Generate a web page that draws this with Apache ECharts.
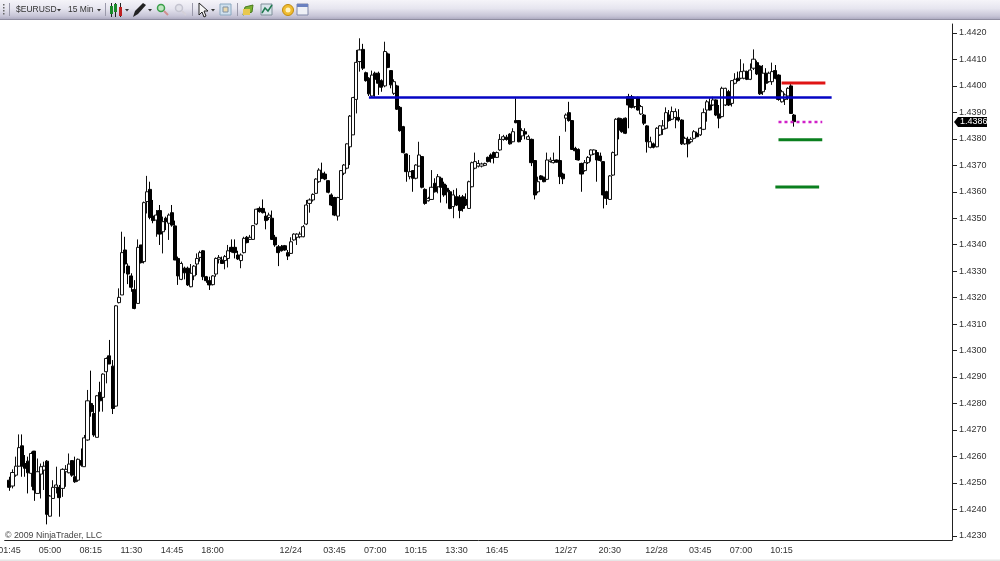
<!DOCTYPE html>
<html>
<head>
<meta charset="utf-8">
<title>$EURUSD 15 Min</title>
<style>
	html,body{margin:0;padding:0;background:#fff;}
	#main{width:1000px;height:561px;}
</style>
<script src="https://cdn.jsdelivr.net/npm/echarts@6/dist/echarts.min.js"></script>
</head>
<body>
<div id="main"></div>
<script>
// 15 minute bars
var opens = [
1.42510,1.42488,1.42529,1.42563,1.42640,1.42573,1.42582,1.42536,1.42620,1.42460,
1.42533,1.42548,1.42582,1.42374,1.42441,1.42483,1.42483,1.42479,1.42542,1.42538,
1.42584,1.42523,1.42510,1.42584,1.42561,1.42662,1.42800,1.42762,1.42672,1.42842,
1.42823,1.42920,1.42980,1.42941,1.42790,1.43181,1.43210,1.43380,1.43319,1.43282,
1.43231,1.43178,1.43399,1.43336,1.43563,1.43609,1.43508,1.43493,1.43529,1.43449,
1.43500,1.43481,1.43521,1.43471,1.43348,1.43269,1.43311,1.43311,1.43241,1.43282,
1.43327,1.43352,1.43377,1.43279,1.43264,1.43249,1.43289,1.43345,1.43342,1.43340,
1.43348,1.43390,1.43390,1.43361,1.43340,1.43370,1.43428,1.43420,1.43420,1.43478,
1.43537,1.43537,1.43508,1.43503,1.43500,1.43428,1.43392,1.43392,1.43396,1.43370,
1.43367,1.43418,1.43428,1.43430,1.43430,1.43478,1.43556,1.43569,1.43594,1.43638,
1.43670,1.43667,1.43642,1.43588,1.43578,1.43508,1.43571,1.43670,1.43689,1.43770,
1.43815,1.43949,1.44092,1.44138,1.44050,1.44029,1.43962,1.44048,1.44048,1.44020,
1.44000,1.44121,1.44058,1.43972,1.44000,1.43919,1.43846,1.43743,1.43657,1.43680,
1.43651,1.43697,1.43733,1.43609,1.43566,1.43571,1.43632,1.43619,1.43651,1.43629,
1.43613,1.43600,1.43544,1.43581,1.43579,1.43581,1.43571,1.43537,1.43619,1.43689,
1.43697,1.43697,1.43700,1.43730,1.43739,1.43748,1.43730,1.43758,1.43798,1.43806,
1.43818,1.43789,1.43869,1.43869,1.43811,1.43827,1.43798,1.43798,1.43718,1.43600,
1.43660,1.43655,1.43647,1.43714,1.43710,1.43720,1.43718,1.43667,1.43878,1.43899,
1.43869,1.43764,1.43760,1.43707,1.43680,1.43710,1.43739,1.43743,1.43748,1.43735,
1.43714,1.43600,1.43571,1.43663,1.43739,1.43878,1.43874,1.43878,1.43959,1.43959,
1.43922,1.43957,1.43894,1.43890,1.43849,1.43768,1.43781,1.43770,1.43815,1.43836,
1.43840,1.43890,1.43874,1.43881,1.43881,1.43871,1.43781,1.43798,1.43789,1.43802,
1.43821,1.43815,1.43836,1.43909,1.43928,1.43928,1.43947,1.43894,1.43884,1.43928,
1.43978,1.43934,1.44010,1.44029,1.44029,1.44029,1.44054,1.44025,1.44067,1.44088,
1.44075,1.43978,1.44048,1.44016,1.44016,1.44058,1.44041,1.43940,1.43949,1.43962,
1.44000,1.43890];
var closes = [
1.42483,1.42539,1.42563,1.42633,1.42563,1.42555,1.42538,1.42611,1.42473,1.42542,
1.42561,1.42563,1.42381,1.42450,1.42483,1.42492,1.42444,1.42551,1.42551,1.42571,
1.42529,1.42504,1.42589,1.42567,1.42670,1.42810,1.42769,1.42681,1.42829,1.42810,
1.42911,1.42970,1.42949,1.42781,1.43169,1.43201,1.43370,1.43327,1.43289,1.43239,
1.43159,1.43390,1.43332,1.43559,1.43600,1.43503,1.43491,1.43512,1.43440,1.43487,
1.43487,1.43512,1.43474,1.43342,1.43282,1.43329,1.43294,1.43248,1.43292,1.43319,
1.43348,1.43370,1.43279,1.43264,1.43248,1.43282,1.43348,1.43352,1.43329,1.43355,
1.43377,1.43374,1.43370,1.43346,1.43361,1.43424,1.43408,1.43428,1.43472,1.43534,
1.43525,1.43521,1.43491,1.43512,1.43420,1.43399,1.43370,1.43377,1.43380,1.43357,
1.43411,1.43440,1.43440,1.43440,1.43468,1.43550,1.43569,1.43590,1.43648,1.43682,
1.43651,1.43648,1.43598,1.43550,1.43512,1.43578,1.43680,1.43701,1.43781,1.43886,
1.43956,1.44089,1.44136,1.44067,1.44020,1.43970,1.44041,1.44025,1.44010,1.43995,
1.44130,1.44070,1.44004,1.44016,1.43912,1.43831,1.43748,1.43676,1.43676,1.43651,
1.43701,1.43739,1.43617,1.43556,1.43575,1.43617,1.43600,1.43657,1.43617,1.43588,
1.43600,1.43537,1.43588,1.43550,1.43529,1.43537,1.43550,1.43638,1.43710,1.43714,
1.43707,1.43705,1.43707,1.43714,1.43726,1.43730,1.43748,1.43798,1.43808,1.43798,
1.43781,1.43827,1.43861,1.43789,1.43831,1.43818,1.43808,1.43710,1.43588,1.43638,
1.43647,1.43638,1.43720,1.43720,1.43718,1.43712,1.43657,1.43649,1.43890,1.43869,
1.43760,1.43755,1.43720,1.43667,1.43710,1.43730,1.43758,1.43758,1.43720,1.43718,
1.43588,1.43575,1.43660,1.43748,1.43874,1.43833,1.43827,1.43821,1.43928,1.43919,
1.43953,1.43909,1.43922,1.43859,1.43789,1.43789,1.43768,1.43840,1.43849,1.43849,
1.43899,1.43869,1.43903,1.43903,1.43871,1.43781,1.43802,1.43781,1.43798,1.43827,
1.43808,1.43840,1.43899,1.43940,1.43909,1.43947,1.43890,1.43878,1.43991,1.43991,
1.43928,1.44020,1.44025,1.44020,1.44054,1.44056,1.44025,1.44060,1.44101,1.44045,
1.43970,1.44048,1.44010,1.44048,1.44054,1.44029,1.43949,1.43978,1.43966,1.43991,
1.43896,1.43865];
var lows = [
1.42470,1.42479,1.42523,1.42561,1.42523,1.42523,1.42460,1.42485,1.42432,1.42460,
1.42441,1.42473,1.42343,1.42372,1.42441,1.42460,1.42372,1.42447,1.42485,1.42536,
1.42523,1.42500,1.42504,1.42561,1.42561,1.42659,1.42750,1.42674,1.42672,1.42769,
1.42769,1.42876,1.42949,1.42760,1.42788,1.43178,1.43210,1.43292,1.43251,1.43222,
1.43156,1.43178,1.43329,1.43329,1.43518,1.43496,1.43481,1.43430,1.43399,1.43367,
1.43455,1.43418,1.43468,1.43342,1.43248,1.43266,1.43269,1.43244,1.43239,1.43266,
1.43285,1.43336,1.43266,1.43256,1.43229,1.43246,1.43279,1.43329,1.43327,1.43307,
1.43314,1.43370,1.43348,1.43342,1.43311,1.43367,1.43405,1.43418,1.43418,1.43474,
1.43521,1.43518,1.43458,1.43493,1.43418,1.43392,1.43319,1.43374,1.43377,1.43342,
1.43365,1.43415,1.43399,1.43424,1.43428,1.43474,1.43521,1.43563,1.43592,1.43634,
1.43648,1.43644,1.43594,1.43546,1.43508,1.43491,1.43569,1.43663,1.43685,1.43701,
1.43815,1.43896,1.44054,1.44060,1.44016,1.43962,1.43959,1.43959,1.43966,1.43978,
1.43995,1.44067,1.43991,1.43966,1.43909,1.43827,1.43745,1.43638,1.43647,1.43600,
1.43647,1.43695,1.43613,1.43551,1.43563,1.43569,1.43597,1.43594,1.43559,1.43581,
1.43556,1.43534,1.43500,1.43546,1.43500,1.43525,1.43546,1.43536,1.43617,1.43685,
1.43692,1.43692,1.43697,1.43711,1.43710,1.43707,1.43728,1.43755,1.43793,1.43793,
1.43778,1.43787,1.43859,1.43787,1.43796,1.43798,1.43796,1.43697,1.43571,1.43594,
1.43644,1.43636,1.43644,1.43710,1.43707,1.43710,1.43629,1.43629,1.43827,1.43865,
1.43758,1.43720,1.43718,1.43600,1.43676,1.43705,1.43714,1.43739,1.43638,1.43714,
1.43537,1.43550,1.43569,1.43660,1.43735,1.43798,1.43823,1.43818,1.43840,1.43915,
1.43915,1.43907,1.43890,1.43852,1.43748,1.43764,1.43764,1.43768,1.43811,1.43815,
1.43836,1.43865,1.43871,1.43840,1.43865,1.43777,1.43777,1.43730,1.43783,1.43798,
1.43806,1.43811,1.43833,1.43865,1.43907,1.43924,1.43886,1.43840,1.43881,1.43924,
1.43924,1.43922,1.44006,1.44016,1.44025,1.44025,1.44022,1.44022,1.44060,1.44041,
1.43966,1.43966,1.43985,1.44012,1.44004,1.44025,1.43944,1.43937,1.43928,1.43947,
1.43894,1.43846];
var highs = [
1.42523,1.42551,1.42599,1.42683,1.42683,1.42605,1.42599,1.42618,1.42620,1.42592,
1.42573,1.42580,1.42586,1.42454,1.42510,1.42561,1.42492,1.42555,1.42567,1.42611,
1.42586,1.42599,1.42592,1.42630,1.42681,1.42851,1.42924,1.42794,1.42832,1.42882,
1.42914,1.42974,1.43040,1.42964,1.43172,1.43235,1.43449,1.43430,1.43329,1.43292,
1.43266,1.43420,1.43399,1.43563,1.43660,1.43638,1.43569,1.43531,1.43550,1.43506,
1.43506,1.43518,1.43550,1.43491,1.43355,1.43336,1.43317,1.43317,1.43327,1.43323,
1.43367,1.43377,1.43380,1.43282,1.43279,1.43285,1.43352,1.43361,1.43355,1.43361,
1.43399,1.43420,1.43420,1.43377,1.43367,1.43430,1.43433,1.43437,1.43474,1.43536,
1.43544,1.43571,1.43525,1.43521,1.43529,1.43437,1.43399,1.43399,1.43399,1.43380,
1.43428,1.43443,1.43443,1.43449,1.43474,1.43569,1.43575,1.43594,1.43651,1.43689,
1.43710,1.43676,1.43644,1.43594,1.43581,1.43581,1.43682,1.43705,1.43783,1.43890,
1.43959,1.44136,1.44180,1.44159,1.44054,1.44033,1.44058,1.44054,1.44054,1.44025,
1.44167,1.44126,1.44060,1.44025,1.44004,1.43924,1.43849,1.43745,1.43739,1.43682,
1.43704,1.43789,1.43735,1.43613,1.43581,1.43682,1.43651,1.43667,1.43657,1.43638,
1.43626,1.43607,1.43607,1.43613,1.43588,1.43588,1.43594,1.43642,1.43714,1.43748,
1.43720,1.43710,1.43710,1.43733,1.43745,1.43752,1.43752,1.43818,1.43815,1.43815,
1.43821,1.43840,1.43953,1.43871,1.43840,1.43840,1.43815,1.43801,1.43720,1.43657,
1.43663,1.43657,1.43748,1.43730,1.43748,1.43722,1.43811,1.43672,1.43896,1.43940,
1.43871,1.43770,1.43764,1.43710,1.43720,1.43735,1.43760,1.43760,1.43758,1.43748,
1.43716,1.43604,1.43663,1.43752,1.43878,1.43880,1.43878,1.43881,1.43970,1.43966,
1.43959,1.43959,1.43928,1.43894,1.43852,1.43808,1.43786,1.43844,1.43852,1.43871,
1.43919,1.43909,1.43922,1.43915,1.43912,1.43874,1.43808,1.43808,1.43806,1.43833,
1.43827,1.43844,1.43915,1.43947,1.43953,1.43959,1.43949,1.43928,1.43997,1.43993,
1.43985,1.44022,1.44048,1.44054,1.44101,1.44085,1.44058,1.44085,1.44138,1.44096,
1.44078,1.44079,1.44067,1.44054,1.44088,1.44079,1.44044,1.43985,1.43972,1.43995,
1.44007,1.43894];

// x axis: slot 0 is empty, bar n sits in slot n+1, empty slots continue to the right edge
var slotCount = 303;
var tickSlots  = [1,14,27,40,53,66,79,91,105,118,131,144,157,170,179,193,206,208,222,235,248];
var tickLabels = ['01:45','05:00','08:15','11:30','14:45','18:00','','12/24','03:45','07:00','10:15','13:30','16:45','','12/27','20:30','','12/28','03:45','07:00','10:15'];
var priceTicks = [1.423,1.424,1.425,1.426,1.427,1.428,1.429,1.430,1.431,1.432,1.433,1.434,1.435,1.436,1.437,1.438,1.439,1.440,1.441,1.442];

// hand drawn levels: from slot, to slot, price
var blueLevel    = [116,264,1.43956];
var redLevel     = [248,262,1.44011];
var magentaLevel = [247,261,1.43864];
var greenLevel1  = [247,261,1.43797];
var greenLevel2  = [246,260,1.43618];

var font = 'Liberation Sans';
var labelColor = '#333';

var categories = [];
for(var i=0;i<slotCount;i++){
	var t = tickSlots.indexOf(i);
	categories.push(t>=0 ? tickLabels[t] : '');
}
var candles = [];
for(var i=0;i<opens.length;i++){
	candles.push([opens[i],closes[i],lows[i],highs[i]]);
}
// candles start in slot 1
candles.unshift('-');

function levelSeries(level,color,width,type){
	return {
		type:'line',
		data:[[level[0],level[2]],[level[1],level[2]]],
		showSymbol:false,
		silent:true,
		animation:false,
		z:5,
		lineStyle:{color:color,width:width,type:type||'solid',cap:'butt'}
	};
}

// toolbar icons are plain shapes, no data in them
function toolbar(){
	var g = [];
	g.push({type:'rect',shape:{x:0,y:0,width:1000,height:19},silent:true,style:{fill:new echarts.graphic.LinearGradient(0,0,0,1,[
		{offset:0,color:'#f5f4f9'},{offset:0.45,color:'#e6e5ef'},{offset:0.85,color:'#c6c4d6'},{offset:1,color:'#aeacc2'}])}});
	g.push({type:'rect',shape:{x:0,y:19,width:1000,height:1},silent:true,style:{fill:'#8f8da0'}});
	g.push({type:'rect',shape:{x:0,y:559.5,width:1000,height:1.5},silent:true,style:{fill:'#e6e6e6'}});
	// grip and separators
	for(var y=4;y<=14;y+=3){
		g.push({type:'rect',shape:{x:3,y:y,width:1.5,height:1.5},style:{fill:'#666'}});
	}
	[9,105,192,237].forEach(function(x){
		g.push({type:'rect',shape:{x:x,y:3,width:1,height:13},style:{fill:'#9a99aa'}});
	});
	g.push({type:'text',style:{x:16,y:10,text:'$EURUSD',font:'8.5px "'+font+'"',fill:'#333',textVerticalAlign:'middle'}});
	g.push({type:'text',style:{x:68,y:10,text:'15 Min',font:'8.5px "'+font+'"',fill:'#333',textVerticalAlign:'middle'}});
	[[57,10],[97,10],[125,10],[148,10],[211,10]].forEach(function(p){
		g.push({type:'polygon',shape:{points:[[p[0],p[1]-1],[p[0]+4,p[1]-1],[p[0]+2,p[1]+1.5]]},style:{fill:'#333'}});
	});
	// candle button
	[[110,'#1a8a2a',6,12],[114,'#1a8a2a',4,10],[119,'#c02020',7,14]].forEach(function(c){
		g.push({type:'rect',shape:{x:c[0]+1,y:3,width:1,height:14},style:{fill:'#222'}});
		g.push({type:'rect',shape:{x:c[0],y:c[2],width:3,height:c[3]-c[2]+2},style:{fill:c[1]}});
	});
	// pen
	g.push({type:'polygon',shape:{points:[[133,17],[135,11],[143,3],[146,5],[138,14]]},style:{fill:'#222'}});
	// zoom in and out
	g.push({type:'circle',shape:{cx:161,cy:8,r:3.5},style:{fill:'#bfe6c0',stroke:'#3aa04a',lineWidth:1.5}});
	g.push({type:'line',shape:{x1:164,y1:11,x2:168,y2:15},style:{stroke:'#d09090',lineWidth:2}});
	g.push({type:'circle',shape:{cx:179,cy:8,r:3.5},style:{fill:'#e2e2ea',stroke:'#c4c4d0',lineWidth:1.5}});
	g.push({type:'line',shape:{x1:182,y1:11,x2:186,y2:15},style:{stroke:'#d4d0d8',lineWidth:2}});
	// cursor
	g.push({type:'polygon',shape:{points:[[199,3],[199,15],[202,12],[204,17],[206,16],[204,11],[208,11]]},style:{fill:'#f4f4f4',stroke:'#222',lineWidth:1}});
	// properties button
	g.push({type:'rect',shape:{x:220,y:4,width:11,height:11},style:{fill:'#cfe0ee',stroke:'#8aa8c0',lineWidth:1}});
	g.push({type:'rect',shape:{x:223,y:7,width:5,height:5},style:{fill:'#e8d8b0',stroke:'#8090a0',lineWidth:1}});
	// folder and arrow
	g.push({type:'polygon',shape:{points:[[243,15],[245,7],[253,5],[252,12]]},style:{fill:'#7ab030',stroke:'#4a7a20',lineWidth:1}});
	g.push({type:'rect',shape:{x:243,y:9,width:7,height:6},style:{fill:'#e8c850'}});
	// small chart
	g.push({type:'rect',shape:{x:261,y:4,width:11,height:11},style:{fill:'#d8e4ea',stroke:'#80909a',lineWidth:1}});
	g.push({type:'polyline',shape:{points:[[262,13],[265,8],[268,11],[272,5]]},style:{stroke:'#207a50',fill:null,lineWidth:1.5}});
	// coin
	g.push({type:'circle',shape:{cx:288,cy:10,r:5.5},style:{fill:'#f0bc30',stroke:'#c08a10',lineWidth:1}});
	g.push({type:'circle',shape:{cx:288,cy:10,r:2.5},style:{fill:'#fff3c0'}});
	// calendar
	g.push({type:'rect',shape:{x:297,y:4,width:11,height:11},style:{fill:'#eef0f6',stroke:'#8088a8',lineWidth:1}});
	g.push({type:'rect',shape:{x:297,y:4,width:11,height:3},style:{fill:'#6a80c0'}});
	// copyright
	g.push({type:'text',style:{x:5,y:535.5,text:'© 2009 NinjaTrader, LLC',font:'8.8px "'+font+'"',fill:'#444',textVerticalAlign:'middle'}});
	return g;
}

var myChart = echarts.init(document.getElementById('main'),null,{renderer:'canvas'});

var option = {
	backgroundColor:'#fff',
	animation:false,
	// outerBoundsMode none: the first label has to run off the left edge as in the original
	grid:{left:4.7,right:48,top:24,bottom:21,outerBoundsMode:'none'},
	xAxis:{
		type:'category',
		data:categories,
		boundaryGap:true,
		axisLine:{lineStyle:{color:'#222',width:1}},
		axisTick:{
			alignWithLabel:true,
			length:4,
			lineStyle:{color:'#222'},
			interval:function(index){return tickSlots.indexOf(index)>=0;}
		},
		axisLabel:{
			interval:function(index){return tickSlots.indexOf(index)>=0;},
			color:labelColor,
			fontFamily:font,
			fontSize:9,
			margin:6,
			hideOverlap:false
		},
		splitLine:{show:false}
	},
	yAxis:{
		type:'value',
		position:'right',
		min:1.42284,
		max:1.44234,
		axisLine:{show:true,lineStyle:{color:'#222',width:1}},
		axisTick:{show:true,length:5,customValues:priceTicks,lineStyle:{color:'#222'}},
		axisLabel:{
			customValues:priceTicks,
			color:labelColor,
			fontFamily:font,
			fontSize:9,
			margin:7,
			padding:[2,0,0,0],
			formatter:function(v){return v.toFixed(4);}
		},
		splitLine:{show:false}
	},
	series:[
		{
			type:'candlestick',
			data:candles,
			barWidth:3.6,
			silent:true,
			clip:false,
			itemStyle:{color:'#fff',color0:'#000',borderColor:'#111',borderColor0:'#000',borderWidth:1}
		},
		levelSeries(blueLevel,'#0404c4',2.5),
		levelSeries(redLevel,'#e01414',3),
		levelSeries(magentaLevel,'#d020c8',2.5,[3,3]),
		levelSeries(greenLevel1,'#0a7f1e',3),
		levelSeries(greenLevel2,'#0a7f1e',3)
	],
	graphic:toolbar()
};
myChart.setOption(option);

// current price tag on the axis, placed through the axis scale
var lastClose = closes[closes.length-1];
var tagY = Math.round(myChart.convertToPixel({yAxisIndex:0},lastClose));
var graphics = toolbar();
graphics.push({
	type:'group',x:954,y:tagY,z:100,
	children:[
		{type:'polygon',z:100,shape:{points:[[0,0],[4,-5],[33,-5],[33,5],[4,5]]},style:{fill:'#000'}},
		{type:'text',z:101,style:{x:6,y:0,text:lastClose.toFixed(4),font:'9px "'+font+'"',fill:'#fff',textVerticalAlign:'middle'}}
	]
});
myChart.setOption({graphic:graphics},{replaceMerge:['graphic']});
</script>
</body>
</html>
